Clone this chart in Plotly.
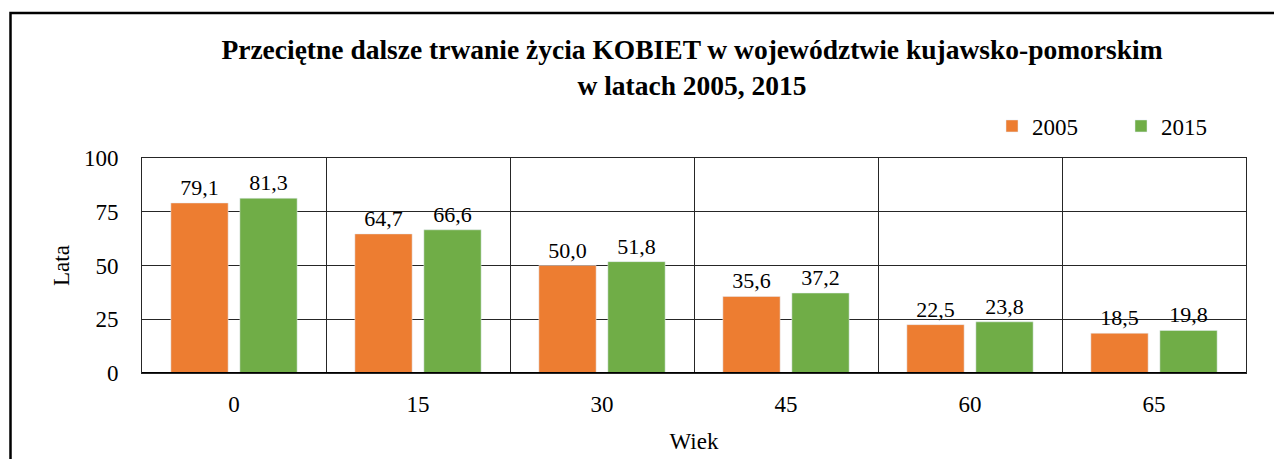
import plotly.graph_objects as go

categories = ["0", "15", "30", "45", "60", "65"]
values_2005 = [79.1, 64.7, 50.0, 35.6, 22.5, 18.5]
values_2015 = [81.3, 66.6, 51.8, 37.2, 23.8, 19.8]
y_ticks = [0, 25, 50, 75, 100]

FONT = "Liberation Serif"
ORANGE = "#ED7D31"
GREEN = "#70AD47"

OFF = 8  # page body margin
W, H = 1282 - OFF, 459 - OFF
L, T = 142 - OFF, 158 - OFF
R, B = 36, 86
pw = W - L - R
ph = H - T - B

fig = go.Figure()
for name, vals, col in [("2005", values_2005, ORANGE), ("2015", values_2015, GREEN)]:
    fig.add_trace(go.Bar(
        name=name, x=categories, y=vals, marker_color=col,
        texttemplate="%{y:.1f}", textposition="outside", cliponaxis=False,
        textfont=dict(family=FONT, size=22, color="black"),
    ))

# outer frame of the chart (extends past right and bottom edges)
def px_x(page_x):
    return (page_x - OFF - L) / pw

def px_y(page_y):
    return (H - B - (page_y - OFF)) / ph

fig.add_shape(type="rect", xref="paper", yref="paper",
              x0=px_x(10.5), x1=px_x(1300), y0=px_y(480), y1=px_y(13),
              line=dict(color="black", width=2.5), fillcolor="rgba(0,0,0,0)",
              layer="below")

fig.update_layout(
    width=W, height=H,
    margin=dict(l=L, r=R, t=T, b=B, pad=0, autoexpand=False),
    paper_bgcolor="white", plot_bgcolor="white",
    separators=", ",
    barmode="group", bargap=0.25, bargroupgap=0.17,
    font=dict(family=FONT, size=23, color="black"),
    title=dict(
        text="<b>Przeciętne dalsze trwanie życia KOBIET w województwie kujawsko-pomorskim<br>w latach 2005, 2015</b>",
        x=(692 - OFF) / W, xanchor="center", y=1 - (59 - OFF) / H, yanchor="top",
        font=dict(family=FONT, size=27.5, color="black"),
    ),
    legend=dict(
        orientation="h", x=px_x(1250), xanchor="right", y=px_y(126), yanchor="middle",
        font=dict(family=FONT, size=23, color="black"),
        itemwidth=30, entrywidth=84, entrywidthmode="pixels",
        traceorder="normal", bgcolor="rgba(0,0,0,0)",
    ),
    xaxis=dict(
        type="category", tickson="boundaries", showgrid=True,
        gridcolor="#262626", gridwidth=1,
        showline=True, linecolor="#262626", linewidth=1, mirror=True,
        ticks="", ticklen=0, ticklabelstandoff=10, automargin=False,
        tickfont=dict(family=FONT, size=23, color="black"),
        title=dict(text="Wiek", font=dict(family=FONT, size=23, color="black"), standoff=17),
        zeroline=False,
    ),
    yaxis=dict(
        range=[0, 100], tickvals=y_ticks, showgrid=True,
        gridcolor="#262626", gridwidth=1,
        showline=True, linecolor="#262626", linewidth=1, mirror=True,
        ticks="", ticklabelstandoff=18, automargin=False,
        tickfont=dict(family=FONT, size=23, color="black"),
        title=dict(text="Lata", font=dict(family=FONT, size=23, color="black"), standoff=7),
        zeroline=False,
    ),
)
# thicker baseline at y=0
fig.add_hline(y=0, line=dict(color="black", width=2))

fig.write_html("out.html")
